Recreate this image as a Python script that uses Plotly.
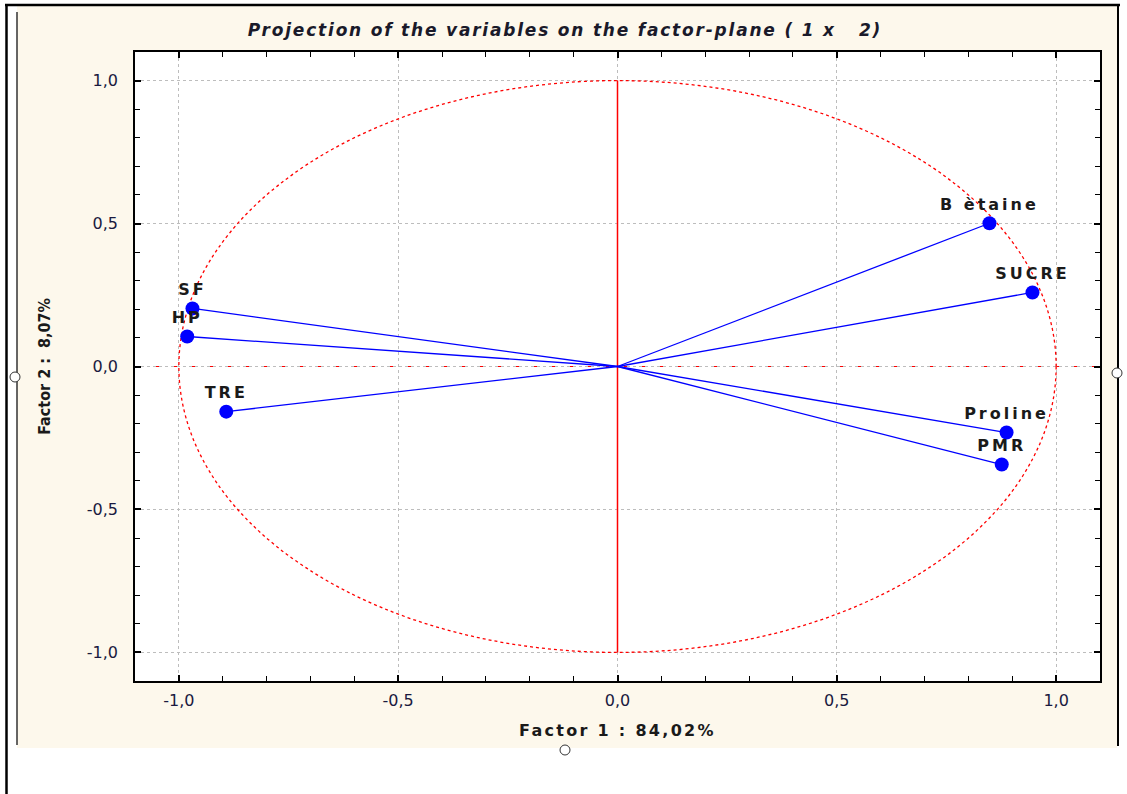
import plotly.graph_objects as go

# Data
variables = ["SF", "HP", "TRE", "B ètaine", "SUCRE", "Proline", "PMR"]
factor1 = [-0.969, -0.981, -0.892, 0.848, 0.946, 0.887, 0.876]
factor2 = [0.203, 0.105, -0.158, 0.501, 0.259, -0.231, -0.343]
tick_vals = [-1.0, -0.5, 0.0, 0.5, 1.0]
tick_text = ["-1,0", "-0,5", "0,0", "0,5", "1,0"]

W, H = 1127, 794
# plot area in page pixels
L, R, T, B = 135, 1100, 52, 681

def px(x):
    return (x - L) / (R - L)

def py(y):
    return (B - y) / (B - T)

FONT = "DejaVu Sans, Verdana, sans-serif"

def spaced(s, sp):
    return '<span style="letter-spacing:%spx">%s</span>' % (sp, s)

fig = go.Figure()

# vectors from origin
for name, a, b in zip(variables, factor1, factor2):
    fig.add_trace(go.Scatter(x=[0, a], y=[0, b], mode="lines",
                             line=dict(color="#0000ff", width=1.3),
                             hoverinfo="skip", showlegend=False))

fig.add_trace(go.Scatter(x=factor1, y=factor2, mode="markers+text",
                         text=["<b>" + spaced(v, 3) + "</b>" for v in variables],
                         textposition="top center",
                         textfont=dict(family=FONT, size=16, color="#1a1a1a"),
                         marker=dict(color="#0000ff", size=14),
                         showlegend=False))

shapes = []
# beige panel
shapes.append(dict(type="rect", xref="paper", yref="paper", x0=px(17), x1=px(1117), y0=py(748), y1=py(6),
                   fillcolor="#fdf8ec", line=dict(width=0), layer="below"))
# white plot area
shapes.append(dict(type="rect", xref="paper", yref="paper", x0=0, x1=1, y0=0, y1=1,
                   fillcolor="white", line=dict(width=0), layer="below"))
# outer frame lines
shapes.append(dict(type="line", xref="paper", yref="paper", x0=px(6.5), x1=px(6.5), y0=py(4), y1=py(800),
                   line=dict(color="black", width=2.5)))
shapes.append(dict(type="line", xref="paper", yref="paper", x0=px(5), x1=px(1120), y0=py(5), y1=py(5),
                   line=dict(color="black", width=2.5)))
shapes.append(dict(type="line", xref="paper", yref="paper", x0=px(1118), x1=px(1118), y0=py(5), y1=py(746),
                   line=dict(color="black", width=2)))
shapes.append(dict(type="line", xref="paper", yref="paper", x0=px(17), x1=px(17), y0=py(12), y1=py(745),
                   line=dict(color="#333333", width=1.5)))
# small edge circles
for cx, cy in [(565, 750), (15, 377), (1117, 373)]:
    shapes.append(dict(type="circle", xref="paper", yref="paper",
                       x0=px(cx - 5), x1=px(cx + 5), y0=py(cy + 5), y1=py(cy - 5),
                       fillcolor="white", line=dict(color="#333333", width=1)))
# unit circle
shapes.append(dict(type="circle", xref="x", yref="y", x0=-1, x1=1, y0=-1, y1=1,
                   line=dict(color="#ff0000", width=1.3, dash="dot"), layer="between"))
# axes through origin
shapes.append(dict(type="line", xref="x", yref="y", x0=0, x1=0, y0=-1, y1=1,
                   line=dict(color="#ff0000", width=1.5), layer="between"))
shapes.append(dict(type="line", xref="paper", yref="y", x0=0, x1=1, y0=0, y1=0,
                   line=dict(color="#ff0000", width=1.2, dash="dashdot"), layer="between"))

tickfont = dict(family=FONT, size=16, color="#1a1a40")
axis_common = dict(
    range=[-1.1, 1.1], tickvals=tick_vals, ticktext=tick_text, tickfont=tickfont,
    showgrid=True, gridcolor="#bdbdbd", griddash="dot", gridwidth=1.2,
    zeroline=False, showline=True, linecolor="black", linewidth=1.5, mirror="ticks",
    ticks="inside", ticklen=6, tickcolor="black", tickwidth=1.5,
    minor=dict(dtick=0.1, tick0=0, ticks="inside", ticklen=5, tickcolor="black", tickwidth=1.2, showgrid=False),
)

fig.update_layout(
    width=W, height=H,
    margin=dict(l=L, r=W - R, t=T, b=H - B),
    paper_bgcolor="white", plot_bgcolor="rgba(0,0,0,0)",
    showlegend=False,
    shapes=shapes,
    title=dict(text="<b><i>" + spaced("Projection of the variables on the factor-plane ( 1 x   2)", 1.8) + "</i></b>",
               x=px(565), xref="paper", xanchor="center",
               y=1 - 30 / H, yref="container", yanchor="middle",
               font=dict(family=FONT, size=17, color="#1a1a2a")),
    xaxis=dict(axis_common,
               title=dict(text="<b>" + spaced("Factor 1 : 84,02%", 2.3) + "</b>", standoff=16,
                          font=dict(family=FONT, size=16, color="#1a1a1a")),
               ticklabelstandoff=4),
    yaxis=dict(axis_common,
               title=dict(text="<b>Factor 2 :  8,07%</b>", standoff=32,
                          font=dict(family="Liberation Sans Narrow, Arial Narrow, DejaVu Sans Condensed, sans-serif",
                                    size=16, color="#1a1a1a")),
               ticklabelstandoff=12),
)

fig.write_html("out.html", config={"displayModeBar": False},
               post_script="document.body.style.margin='0';")
